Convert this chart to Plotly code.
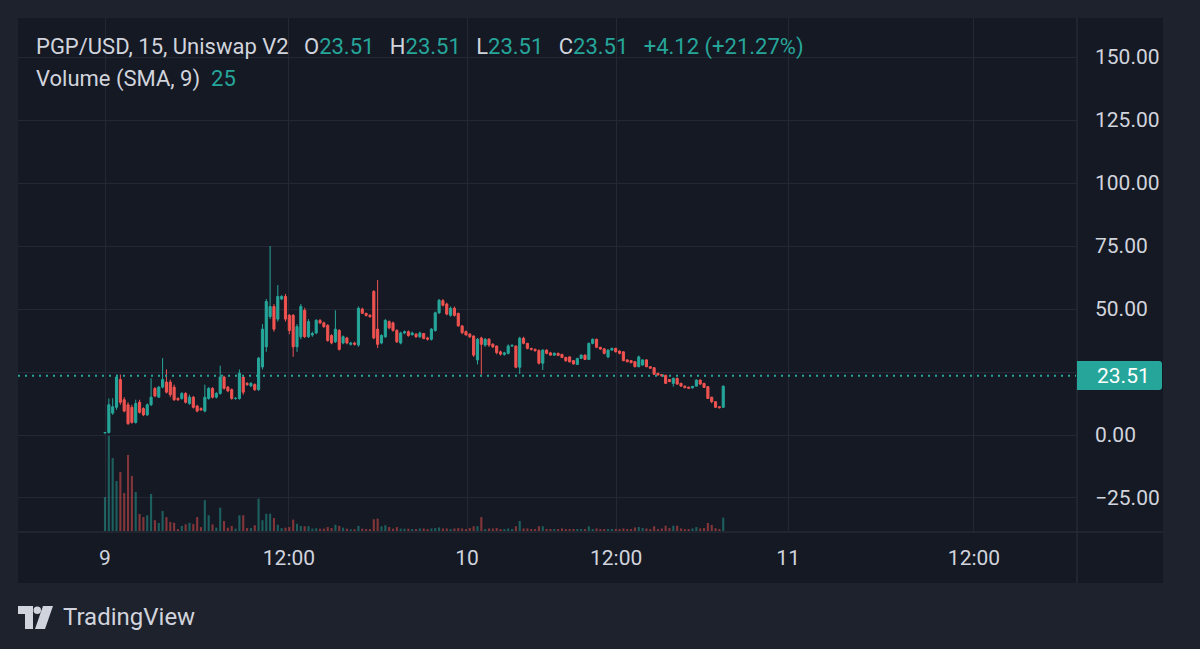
import plotly.graph_objects as go

# ---------------- data (15-minute bars, index-based time scale) ----------------
opens = [0.8, 1.0, 8.7, 11.0, 22.0, 14.0, 12.0, 11.0, 5.0, 13.0,
         10.5, 8.0, 12.0, 18.5, 15.0, 19.0, 21.0, 21.0, 19.0, 14.5,
         14.5, 16.5, 12.5, 15.0, 11.5, 10.5, 9.5, 14.5, 18.5, 15.0,
         16.5, 23.0, 19.0, 18.0, 14.5, 14.5, 23.0, 20.5, 19.5, 20.0,
         18.0, 27.0, 35.0, 47.0, 51.0, 46.0, 54.0, 55.0, 47.5, 47.5,
         35.0, 39.0, 49.5, 39.0, 39.7, 40.5, 45.5, 44.5, 43.5, 39.5,
         37.0, 41.5, 36.5, 38.5, 36.0, 36.5, 35.7, 50.0, 48.3, 47.5,
         57.0, 42.0, 36.5, 39.0, 45.0, 44.5, 41.5, 36.5, 40.5, 41.0,
         39.8, 40.0, 39.0, 40.3, 38.5, 38.0, 41.5, 48.5, 53.3, 52.0,
         47.5, 50.3, 48.3, 43.3, 41.0, 40.0, 39.3, 29.8, 38.5, 35.7,
         38.0, 36.0, 35.3, 33.0, 32.0, 32.4, 35.3, 35.3, 26.9, 38.4,
         36.4, 34.4, 34.0, 33.5, 28.5, 33.7, 32.6, 31.7, 32.4, 32.0,
         30.8, 31.0, 29.5, 28.0, 30.4, 31.7, 30.0, 36.4, 38.0, 34.8,
         34.2, 31.0, 33.7, 34.4, 33.3, 33.0, 29.8, 29.5, 29.1, 27.1,
         27.8, 29.8, 27.1, 26.7, 24.5, 24.0, 23.7, 22.0, 20.5, 22.5,
         20.5, 19.4, 19.0, 18.7, 19.4, 21.8, 20.5, 19.2, 15.0, 13.2,
         11.2, 11.0]
highs = [1.2, 14.5, 14.6, 24.0, 24.0, 15.0, 13.0, 12.0, 14.0, 14.0,
         11.0, 12.5, 22.5, 19.0, 19.5, 30.5, 26.0, 22.0, 20.0, 15.0,
         17.0, 17.0, 16.0, 15.5, 12.0, 11.0, 20.0, 19.0, 19.0, 17.0,
         27.5, 23.5, 19.5, 18.5, 15.0, 26.0, 23.5, 21.0, 21.0, 20.5,
         31.0, 44.0, 54.0, 75.0, 52.0, 59.5, 55.5, 56.0, 48.0, 48.0,
         44.0, 52.0, 50.5, 46.0, 41.0, 46.0, 46.0, 45.0, 44.0, 40.0,
         49.5, 42.0, 39.5, 39.0, 37.0, 37.0, 51.0, 50.5, 48.5, 48.0,
         57.5, 61.5, 40.0, 46.0, 45.5, 45.0, 42.0, 41.0, 41.5, 41.5,
         41.0, 40.5, 41.0, 40.5, 39.0, 42.5, 49.0, 54.0, 54.0, 52.5,
         51.0, 51.0, 48.5, 43.5, 41.5, 40.5, 39.5, 38.5, 39.0, 38.5,
         38.5, 36.5, 35.5, 33.5, 33.0, 36.0, 36.0, 35.5, 39.0, 39.0,
         36.5, 34.5, 34.3, 34.0, 34.0, 34.0, 33.0, 32.8, 32.7, 32.2,
         31.0, 31.2, 29.7, 30.6, 32.0, 32.0, 36.6, 38.3, 38.2, 35.0,
         34.5, 34.0, 34.6, 34.6, 33.6, 33.2, 30.0, 29.7, 29.3, 31.5,
         30.0, 30.0, 27.3, 26.9, 24.7, 24.2, 23.9, 22.2, 22.8, 22.7,
         20.7, 19.6, 19.2, 19.5, 22.0, 22.0, 20.7, 19.4, 15.2, 13.4,
         11.5, 19.6]
lows = [0.6, 0.5, 8.0, 10.0, 12.0, 9.0, 4.0, 4.5, 4.5, 8.5,
        7.5, 7.5, 11.5, 15.0, 15.0, 18.5, 16.5, 15.0, 13.5, 13.5,
        14.0, 12.5, 12.0, 10.5, 9.0, 9.5, 9.0, 14.0, 14.5, 14.5,
        16.0, 18.0, 17.0, 14.0, 14.0, 14.0, 16.0, 19.5, 19.0, 17.5,
        17.5, 26.0, 33.0, 46.0, 41.0, 45.0, 53.5, 45.0, 40.0, 31.0,
        33.0, 38.0, 38.5, 38.5, 39.0, 40.0, 44.0, 42.5, 37.0, 36.0,
        36.5, 33.5, 36.0, 36.0, 35.5, 35.5, 35.0, 48.0, 47.0, 46.5,
        38.0, 34.5, 36.0, 38.5, 42.0, 41.0, 36.5, 36.0, 40.0, 39.0,
        39.5, 38.5, 38.5, 38.0, 37.5, 37.5, 41.0, 48.0, 51.0, 47.5,
        47.0, 47.0, 43.0, 40.0, 39.5, 38.5, 31.0, 28.0, 24.0, 35.0,
        35.0, 34.5, 32.0, 31.5, 31.5, 32.0, 35.0, 26.5, 24.2, 36.0,
        34.0, 33.5, 33.0, 28.0, 25.8, 32.0, 31.5, 31.4, 31.3, 30.5,
        29.0, 28.8, 28.0, 27.8, 30.2, 29.8, 29.8, 36.0, 34.5, 33.8,
        32.0, 30.5, 33.5, 32.8, 32.0, 29.3, 28.8, 28.5, 26.9, 26.9,
        27.5, 26.9, 26.3, 23.9, 23.6, 23.2, 20.3, 21.0, 19.2, 20.0,
        19.2, 18.5, 18.3, 18.5, 19.2, 20.0, 18.7, 14.3, 12.6, 10.8,
        10.5, 10.8]
closes = [1.0, 12.0, 11.2, 23.0, 13.0, 9.5, 4.5, 5.0, 12.5, 9.0,
          8.0, 12.0, 15.0, 15.5, 19.0, 22.0, 17.0, 16.0, 14.0, 14.0,
          16.5, 13.0, 15.0, 11.0, 9.5, 10.0, 15.0, 18.5, 15.0, 16.5,
          23.0, 18.5, 17.5, 14.5, 14.6, 24.5, 17.0, 20.0, 20.5, 18.0,
          30.5, 42.0, 53.0, 51.0, 42.0, 55.0, 55.0, 46.0, 41.5, 35.0,
          43.0, 51.0, 39.0, 45.0, 40.3, 45.5, 44.5, 43.0, 37.5, 36.5,
          42.0, 34.0, 39.0, 36.5, 36.5, 36.0, 50.3, 48.3, 47.5, 47.0,
          38.5, 36.0, 39.5, 45.5, 42.5, 41.5, 37.0, 40.5, 41.0, 39.5,
          40.5, 39.0, 40.5, 38.3, 38.0, 42.0, 48.5, 53.5, 51.5, 48.0,
          50.3, 47.5, 43.3, 40.6, 39.7, 39.0, 31.7, 38.0, 36.0, 38.0,
          35.7, 35.0, 32.7, 32.1, 32.6, 35.3, 35.6, 26.9, 38.4, 36.4,
          34.4, 34.0, 33.5, 28.5, 33.7, 32.4, 31.7, 32.4, 31.6, 30.8,
          29.5, 29.0, 28.2, 30.4, 31.7, 30.0, 36.4, 38.0, 34.8, 34.1,
          32.4, 33.7, 34.4, 33.0, 32.4, 29.5, 29.1, 28.7, 27.1, 31.0,
          29.8, 27.1, 26.5, 24.1, 23.8, 23.4, 20.5, 21.2, 22.5, 20.2,
          19.4, 18.8, 18.5, 19.3, 21.8, 20.2, 18.9, 14.5, 13.2, 11.0,
          10.8, 19.39]
volumes = [173, 485, 372, 255, 301, 194, 388, 281, 199, 87,
           71, 80, 189, 55, 41, 102, 71, 46, 42, 10,
           26, 34, 42, 36, 71, 20, 157, 80, 34, 17,
           119, 51, 17, 26, 12, 80, 80, 15, 15, 29,
           165, 55, 88, 88, 66, 32, 15, 17, 20, 58,
           37, 26, 24, 24, 12, 14, 12, 12, 20, 15,
           32, 26, 17, 12, 9, 9, 26, 12, 10, 10,
           60, 63, 24, 29, 20, 12, 20, 12, 12, 12,
           10, 10, 13, 13, 10, 13, 15, 18, 13, 13,
           10, 13, 15, 13, 10, 15, 24, 24, 71, 10,
           13, 13, 15, 10, 10, 13, 10, 24, 51, 13,
           13, 10, 10, 24, 24, 10, 10, 10, 10, 13,
           10, 10, 10, 10, 10, 10, 24, 10, 13, 10,
           10, 10, 10, 10, 10, 13, 10, 10, 18, 20,
           15, 13, 10, 24, 10, 13, 27, 15, 27, 27,
           13, 10, 10, 13, 20, 13, 15, 41, 31, 14,
           10, 68]

tick_pos = [0, 47.9, 94.3, 133.1, 177.9, 226.3]          # bar-index positions
tick_labels = ["9", "12:00", "10", "12:00", "11", "12:00"]
price_ticks = [-25, 0, 25, 50, 75, 100, 125, 150]
price_tick_labels = ["\u221225.00", "0.00", "", "50.00", "75.00", "100.00", "125.00", "150.00"]
last_price = 23.51

# ---------------- styling ----------------
UP = "#26a69a"
DOWN = "#ef5350"
UP_VOL = "rgba(38,166,154,0.5)"
DOWN_VOL = "rgba(239,83,80,0.5)"
OUTER = "#1e222d"
PANEL = "#151924"
GRID = "#242834"
SEP = "#2e323d"
TXT = "#d1d4dc"
FONT = "Roboto"

W, H = 1200, 649
PL, PR, PT, PB = 18, 1076, 18, 531     # plot area in pixels


def xp(px):
    return (px - PL) / (PR - PL)


def yp(py):
    return (PB - py) / (PB - PT)


n = len(closes)
idx = list(range(n))
up = [closes[i] >= opens[i] for i in idx]

fig = go.Figure()

# volume (overlay pane)
fig.add_trace(go.Bar(
    x=idx, y=volumes, yaxis="y2", width=0.55,
    marker=dict(color=[UP_VOL if u else DOWN_VOL for u in up], line=dict(width=0)),
    hoverinfo="skip", showlegend=False))

# wicks
for col, flag in ((UP, True), (DOWN, False)):
    wx, wy = [], []
    for i in idx:
        if up[i] == flag:
            wx += [i, i, None]
            wy += [lows[i], highs[i], None]
    fig.add_trace(go.Scatter(x=wx, y=wy, mode="lines", line=dict(color=col, width=1),
                             hoverinfo="skip", showlegend=False))

# bodies
fig.add_trace(go.Bar(
    x=idx,
    base=[min(opens[i], closes[i]) for i in idx],
    y=[abs(closes[i] - opens[i]) for i in idx],
    width=0.55,
    marker=dict(color=[UP if u else DOWN for u in up],
                line=dict(color=[UP if u else DOWN for u in up], width=1)),
    hoverinfo="skip", showlegend=False))

shapes = []
# price axis area and time axis area backgrounds
shapes.append(dict(type="rect", xref="paper", yref="paper", x0=xp(1076), x1=xp(1163),
                   y0=yp(583), y1=yp(18), fillcolor=PANEL, line=dict(width=0), layer="below"))
shapes.append(dict(type="rect", xref="paper", yref="paper", x0=xp(18), x1=xp(1163),
                   y0=yp(583), y1=yp(531), fillcolor=PANEL, line=dict(width=0), layer="below"))
# separators
shapes.append(dict(type="line", xref="paper", yref="paper", x0=xp(1077), x1=xp(1077),
                   y0=yp(583), y1=yp(18), line=dict(color=SEP, width=1)))
shapes.append(dict(type="line", xref="paper", yref="paper", x0=xp(18), x1=xp(1163),
                   y0=yp(532), y1=yp(532), line=dict(color=SEP, width=1)))
# last price dotted line
shapes.append(dict(type="line", xref="paper", yref="y", x0=0, x1=1, y0=last_price, y1=last_price,
                   line=dict(color=UP, width=2, dash="2px,5px")))
# price label box with rounded right corners
x0, x1 = xp(1077), xp(1162)
yt, yb = yp(361), yp(390)
rx, ry = 3 / (PR - PL), 3 / (PB - PT)
path = (f"M {x0},{yt} L {x1-rx},{yt} Q {x1},{yt} {x1},{yt-ry} L {x1},{yb+ry} "
        f"Q {x1},{yb} {x1-rx},{yb} L {x0},{yb} Z")
shapes.append(dict(type="path", xref="paper", yref="paper", path=path,
                   fillcolor=UP, line=dict(width=0)))
# TradingView logo
LOGO = "#d1d4dc"
shapes.append(dict(type="rect", xref="paper", yref="paper", x0=xp(18), x1=xp(33),
                   y0=yp(614), y1=yp(606), fillcolor=LOGO, line=dict(width=0)))
shapes.append(dict(type="rect", xref="paper", yref="paper", x0=xp(25), x1=xp(33),
                   y0=yp(629), y1=yp(606), fillcolor=LOGO, line=dict(width=0)))
shapes.append(dict(type="circle", xref="paper", yref="paper", x0=xp(33.5), x1=xp(41),
                   y0=yp(614), y1=yp(606.5), fillcolor=LOGO, line=dict(width=0)))
lp = (f"M {xp(43)},{yp(606)} L {xp(53)},{yp(606)} L {xp(45)},{yp(629)} "
      f"L {xp(35)},{yp(629)} Z")
shapes.append(dict(type="path", xref="paper", yref="paper", path=lp,
                   fillcolor=LOGO, line=dict(width=0)))

annotations = []
GAP = "&nbsp;&nbsp;\u2009"
hdr = (f"PGP/USD, 15, Uniswap V2{GAP}O<span style='color:{UP}'>23.51</span>{GAP}"
       f"H<span style='color:{UP}'>23.51</span>{GAP}L<span style='color:{UP}'>23.51</span>{GAP}"
       f"C<span style='color:{UP}'>23.51</span>{GAP}<span style='color:{UP}'>+4.12 (+21.27%)</span>")
annotations.append(dict(xref="paper", yref="paper", x=xp(34), y=yp(47), xanchor="left", yanchor="middle",
                        text=hdr, showarrow=False, font=dict(family=FONT, size=22, color=TXT)))
annotations.append(dict(xref="paper", yref="paper", x=xp(34), y=yp(79), xanchor="left", yanchor="middle",
                        text=f"Volume (SMA, 9)&nbsp;&nbsp;<span style='color:{UP}'>25</span>",
                        showarrow=False, font=dict(family=FONT, size=22, color=TXT)))
annotations.append(dict(xref="paper", yref="y", x=xp(1095), y=last_price, xanchor="left", yanchor="middle",
                        text=f"{last_price:.2f}", showarrow=False,
                        font=dict(family=FONT, size=21, color="#ffffff")))
annotations.append(dict(xref="paper", yref="paper", x=xp(61), y=yp(617), xanchor="left", yanchor="middle",
                        text="TradingView", showarrow=False,
                        font=dict(family=FONT, size=24, color=LOGO)))

fig.update_layout(
    width=W, height=H, autosize=False,
    margin=dict(l=PL, r=W - PR, t=PT, b=H - PB, pad=0),
    paper_bgcolor=OUTER, plot_bgcolor=PANEL,
    barmode="overlay", showlegend=False,
    shapes=shapes, annotations=annotations,
    xaxis=dict(range=[(PL - 105) / 3.84, (PR - 105) / 3.84],
               tickmode="array", tickvals=tick_pos, ticktext=tick_labels,
               showgrid=True, gridcolor=GRID, gridwidth=1, zeroline=False, showline=False,
               ticks="", ticklabelstandoff=12,
               tickfont=dict(family=FONT, size=21, color=TXT), fixedrange=True),
    yaxis=dict(range=[-38.1, 165.5], side="right",
               tickmode="array", tickvals=price_ticks, ticktext=price_tick_labels,
               showgrid=True, gridcolor=GRID, gridwidth=1, zeroline=False, showline=False,
               ticks="", ticklabelstandoff=18,
               tickfont=dict(family=FONT, size=21, color=TXT), fixedrange=True),
    yaxis2=dict(overlaying="y", range=[0, (PB - PT) * 5.1], visible=False, fixedrange=True),
)

fig.write_html("out.html", config={"displayModeBar": False})
